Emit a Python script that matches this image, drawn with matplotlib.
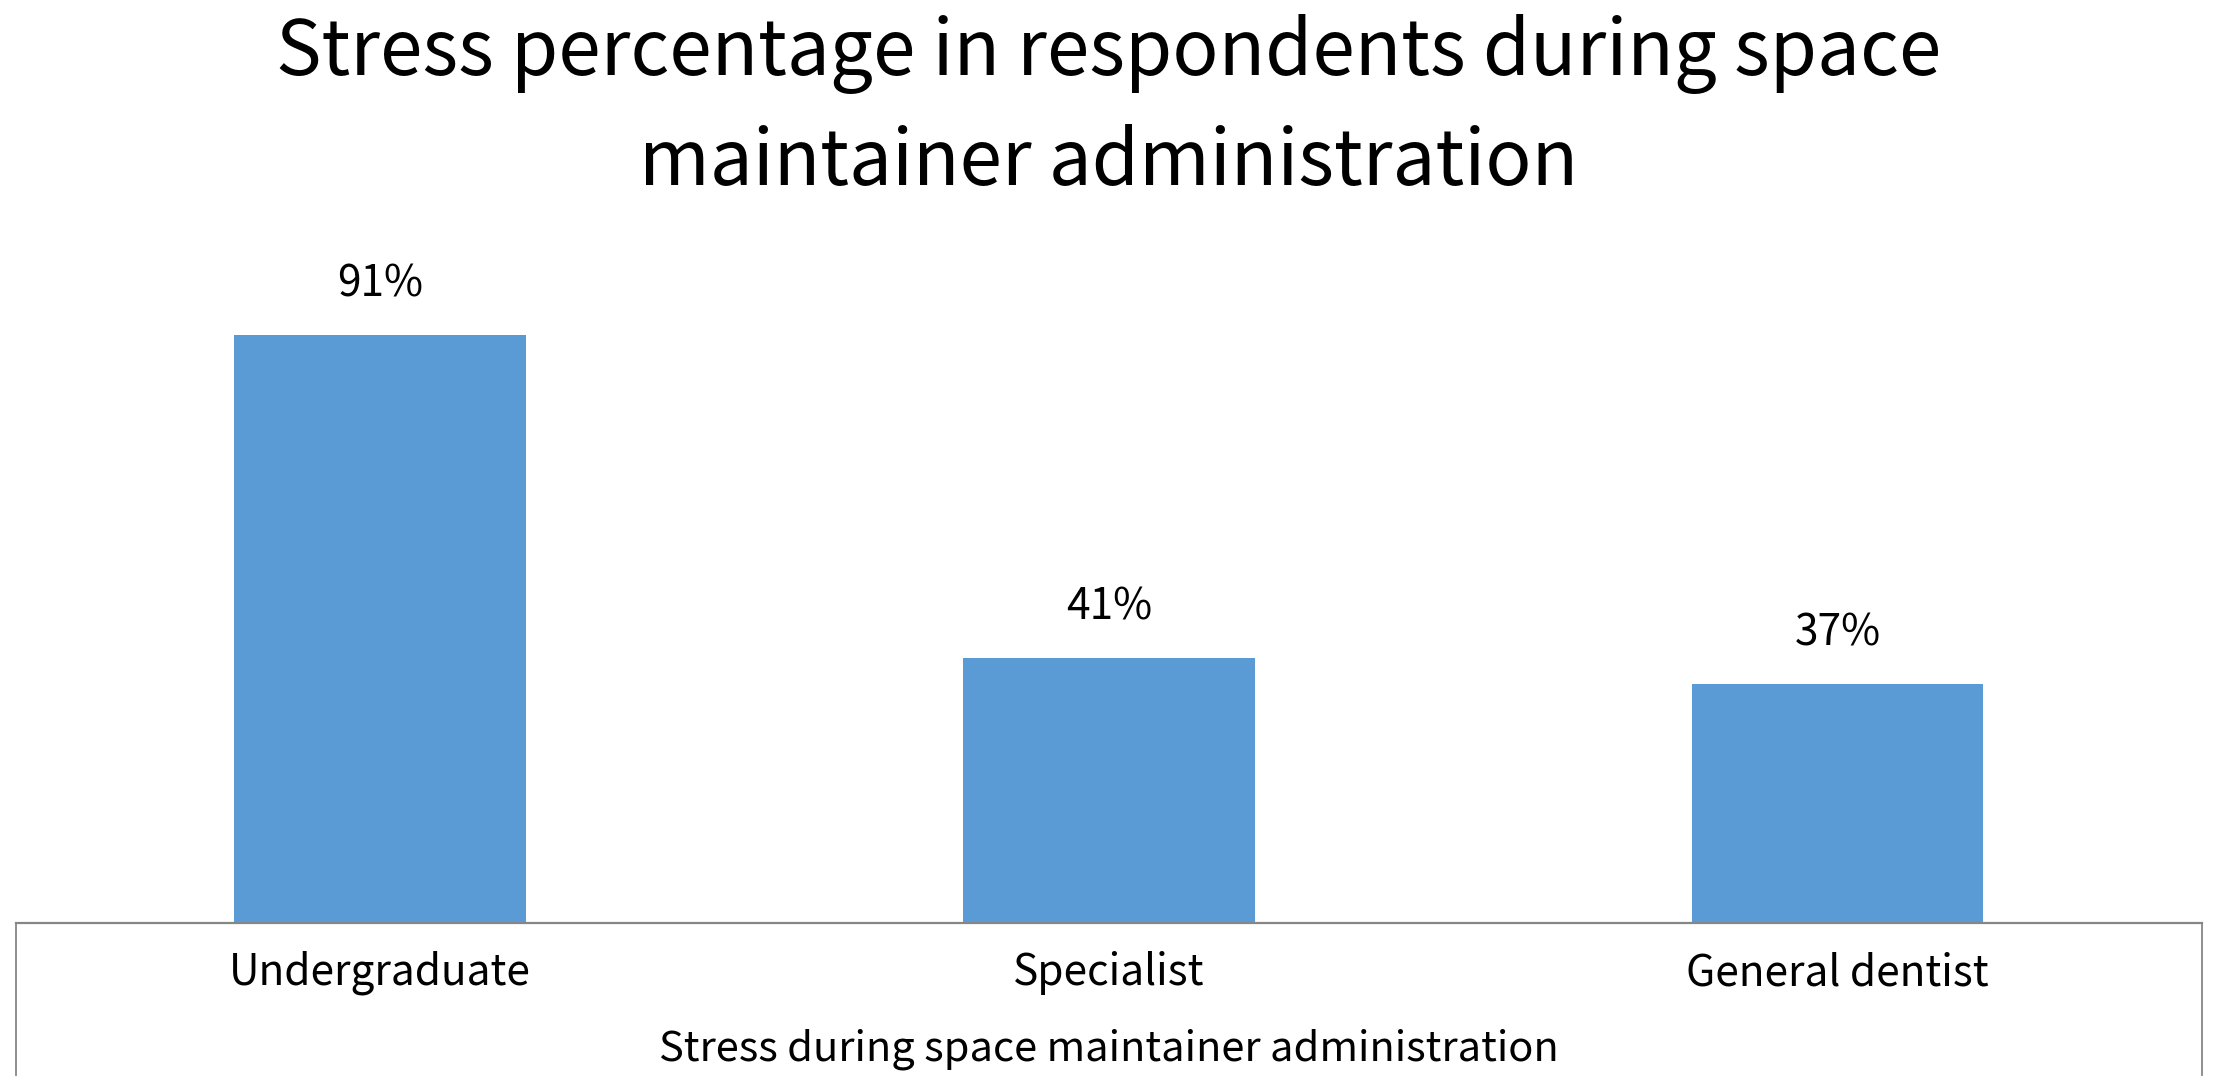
import matplotlib
matplotlib.use('Agg')
import matplotlib.pyplot as plt
from matplotlib.lines import Line2D

plt.rcParams['font.family'] = ['Noto Sans CJK SC', 'DejaVu Sans']

# data
categories = ['Undergraduate', 'Specialist', 'General dentist']
stress_pct = [91, 41, 37]
title_lines = ['Stress percentage in respondents during space', 'maintainer administration']
x_title = 'Stress during space maintainer administration'

W, H = 2223, 1088
fig = plt.figure(figsize=(W / 100, H / 100), dpi=100)

# plot area in pixels
left_px, right_px = 15.6, 2202
base_px, top_px = 923, 277
ax = fig.add_axes([left_px / W, 1 - base_px / H, (right_px - left_px) / W, (base_px - top_px) / H])

bar_color = '#5B9BD5'
axis_color = '#868686'
x = list(range(len(categories)))
bars = ax.bar(x, stress_pct, width=0.4, color=bar_color, zorder=2)
ax.set_xlim(-0.5, len(categories) - 0.5)
ax.set_ylim(0, 100)

for s in ['top', 'left', 'right']:
    ax.spines[s].set_visible(False)
ax.spines['bottom'].set_color(axis_color)
ax.spines['bottom'].set_linewidth(1.6)
ax.spines['bottom'].set_zorder(3)
ax.set_yticks([])
ax.set_xticks(x)
ax.set_xticklabels(categories, fontsize=30.5, va='center', fontweight='light')
ax.tick_params(axis='x', length=0, pad=36)

# data labels
for xi, v in zip(x, stress_pct):
    ax.annotate(f'{v}%', (xi, v), xytext=(0, 36.5), textcoords='offset points',
                ha='center', va='center', fontsize=30.5, fontweight='light')

# frame lines under the axis
bottom_px = 1075
for xp in (left_px, right_px):
    fig.add_artist(Line2D([xp / W, xp / W], [1 - base_px / H, 1 - bottom_px / H],
                          transform=fig.transFigure, color=axis_color, linewidth=1.3))

fig.text(0.4988, 1 - 1049 / H, x_title, ha='center', va='center', fontsize=30, fontweight='light')

fig.text(0.4985, 1 - 54 / H, title_lines[0], ha='center', va='center', fontsize=55, fontweight='light')
fig.text(0.4985, 1 - 163 / H, title_lines[1], ha='center', va='center', fontsize=55, fontweight='light')

fig.savefig('out.png', dpi=100, facecolor='white')
